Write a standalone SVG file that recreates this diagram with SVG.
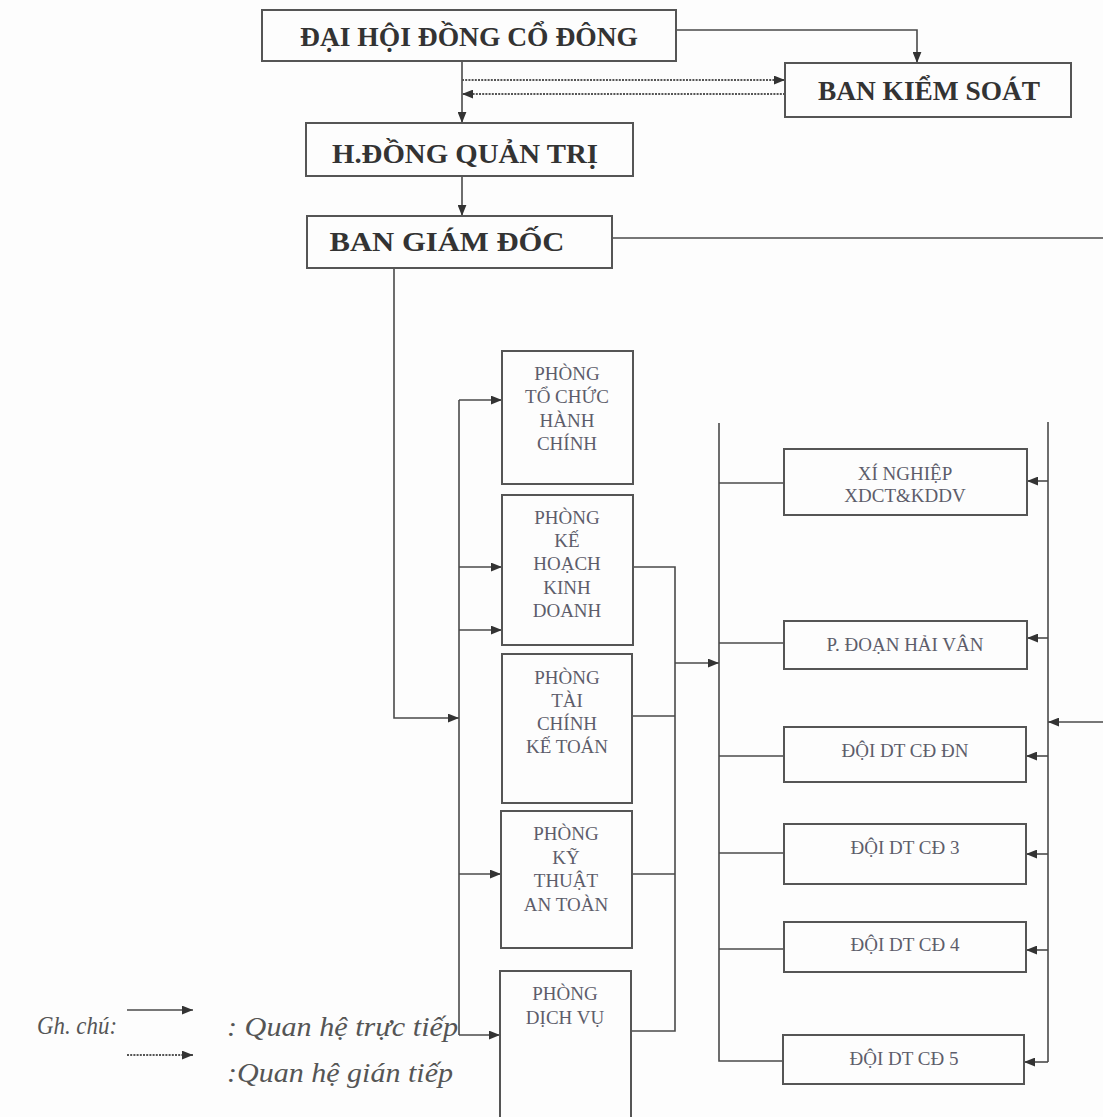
<svg xmlns="http://www.w3.org/2000/svg" width="1103" height="1117" viewBox="0 0 1103 1117">
<style>
.box{fill:none;stroke:#555;stroke-width:2}
.big{font-family:"Liberation Serif","Times New Roman",serif;font-weight:bold;font-size:28px;fill:#333;text-anchor:middle}
.sm{font-family:"Liberation Serif","Times New Roman",serif;font-size:19px;fill:#5d5d6b;text-anchor:middle}
.lg{font-family:"Liberation Serif","Times New Roman",serif;font-style:italic;font-size:27px;fill:#555}
.ln{fill:none;stroke:#4a4a4a;stroke-width:1.6}
.dot{fill:none;stroke:#555;stroke-width:1.8;stroke-dasharray:2 1.2}
</style>
<defs>
<marker id="ah" viewBox="0 0 10 8" refX="10" refY="4" markerWidth="11" markerHeight="9" markerUnits="userSpaceOnUse" orient="auto">
<path d="M0,0 L10,4 L0,8 z" fill="#333"/>
</marker>
</defs>
<rect width="1103" height="1117" fill="#fdfdfd"/>

<g id="connectors">
<path class="ln" d="M676 30 H917 V63" marker-end="url(#ah)"/>
<path class="ln" d="M462 61 V123" marker-end="url(#ah)"/>
<path class="dot" d="M462 80 H785" marker-end="url(#ah)"/>
<path class="dot" d="M785 94 H462" marker-end="url(#ah)"/>
<path class="ln" d="M462 176 V216" marker-end="url(#ah)"/>
<path class="ln" d="M612 238 H1103"/>
<path class="ln" d="M394 268 V718 H459" marker-end="url(#ah)"/>
<path class="ln" d="M459 400 V1035"/>
<path class="ln" d="M459 400 H502" marker-end="url(#ah)"/>
<path class="ln" d="M459 567 H502" marker-end="url(#ah)"/>
<path class="ln" d="M459 630 H502" marker-end="url(#ah)"/>
<path class="ln" d="M459 874 H501" marker-end="url(#ah)"/>
<path class="ln" d="M459 1035 H500" marker-end="url(#ah)"/>
<path class="ln" d="M633 567 H675 V1031 H631"/>
<path class="ln" d="M632 716 H675"/>
<path class="ln" d="M632 874 H675"/>
<path class="ln" d="M675 663 H719" marker-end="url(#ah)"/>
<path class="ln" d="M719 423 V1061 H783"/>
<path class="ln" d="M719 483 H784"/>
<path class="ln" d="M719 643 H784"/>
<path class="ln" d="M719 756 H784"/>
<path class="ln" d="M719 853 H784"/>
<path class="ln" d="M719 949 H784"/>
<path class="ln" d="M1048 422 V1062"/>
<path class="ln" d="M1048 481 H1027" marker-end="url(#ah)"/>
<path class="ln" d="M1048 638 H1027" marker-end="url(#ah)"/>
<path class="ln" d="M1048 756 H1026" marker-end="url(#ah)"/>
<path class="ln" d="M1048 854 H1026" marker-end="url(#ah)"/>
<path class="ln" d="M1048 950 H1026" marker-end="url(#ah)"/>
<path class="ln" d="M1048 1062 H1024" marker-end="url(#ah)"/>
<path class="ln" d="M1103 722 H1048" marker-end="url(#ah)"/>
</g>

<g id="dhdcd"><rect class="box" x="262" y="10" width="414" height="51"/><text class="big" x="469" y="46" textLength="338" lengthAdjust="spacingAndGlyphs">ĐẠI HỘI ĐỒNG CỔ ĐÔNG</text></g>
<g id="bks"><rect class="box" x="785" y="63" width="286" height="54"/><text class="big" x="929" y="100" textLength="222" lengthAdjust="spacingAndGlyphs">BAN KIỂM SOÁT</text></g>
<g id="hdqt"><rect class="box" x="306" y="123" width="327" height="53"/><text class="big" x="465" y="163" textLength="266" lengthAdjust="spacingAndGlyphs">H.ĐỒNG QUẢN TRỊ</text></g>
<g id="bgd"><rect class="box" x="307" y="216" width="305" height="52"/><text class="big" x="447" y="251" textLength="235" lengthAdjust="spacingAndGlyphs">BAN GIÁM ĐỐC</text></g>

<g id="p-tchc"><rect class="box" x="502" y="351" width="131" height="133"/>
<text class="sm" x="567" y="380">PHÒNG</text><text class="sm" x="567" y="403">TỔ CHỨC</text><text class="sm" x="567" y="427">HÀNH</text><text class="sm" x="567" y="450">CHÍNH</text></g>
<g id="p-khkd"><rect class="box" x="502" y="495" width="131" height="150"/>
<text class="sm" x="567" y="524">PHÒNG</text><text class="sm" x="567" y="547">KẾ</text><text class="sm" x="567" y="570">HOẠCH</text><text class="sm" x="567" y="594">KINH</text><text class="sm" x="567" y="617">DOANH</text></g>
<g id="p-tckt"><rect class="box" x="502" y="654" width="130" height="149"/>
<text class="sm" x="567" y="684">PHÒNG</text><text class="sm" x="567" y="707">TÀI</text><text class="sm" x="567" y="730">CHÍNH</text><text class="sm" x="567" y="753">KẾ TOÁN</text></g>
<g id="p-ktat"><rect class="box" x="501" y="811" width="131" height="137"/>
<text class="sm" x="566" y="840">PHÒNG</text><text class="sm" x="566" y="864">KỸ</text><text class="sm" x="566" y="887">THUẬT</text><text class="sm" x="566" y="911">AN TOÀN</text></g>
<g id="p-dv"><rect class="box" x="500" y="971" width="131" height="170"/>
<text class="sm" x="565" y="1000">PHÒNG</text><text class="sm" x="565" y="1024">DỊCH VỤ</text></g>

<g id="xn"><rect class="box" x="784" y="449" width="243" height="66"/>
<text class="sm" x="905" y="480">XÍ NGHIỆP</text><text class="sm" x="905" y="502">XDCT&amp;KDDV</text></g>
<g id="phv"><rect class="box" x="784" y="621" width="243" height="48"/><text class="sm" x="905" y="651">P. ĐOẠN HẢI VÂN</text></g>
<g id="dn"><rect class="box" x="784" y="727" width="242" height="55"/><text class="sm" x="905" y="757">ĐỘI DT CĐ ĐN</text></g>
<g id="cd3"><rect class="box" x="784" y="824" width="242" height="60"/><text class="sm" x="905" y="854">ĐỘI DT CĐ 3</text></g>
<g id="cd4"><rect class="box" x="784" y="922" width="242" height="50"/><text class="sm" x="905" y="951">ĐỘI DT CĐ 4</text></g>
<g id="cd5"><rect class="box" x="783" y="1035" width="241" height="49"/><text class="sm" x="904" y="1065">ĐỘI DT CĐ 5</text></g>

<g id="legend">
<text class="lg" x="37" y="1034" style="font-size:25px" textLength="80" lengthAdjust="spacingAndGlyphs">Gh. chú:</text>
<path class="ln" d="M127 1010 H193" marker-end="url(#ah)"/>
<path class="dot" d="M127 1055 H193" marker-end="url(#ah)"/>
<text class="lg" x="227" y="1036" textLength="231" lengthAdjust="spacingAndGlyphs">: Quan hệ trực tiếp</text>
<text class="lg" x="227" y="1082" textLength="226" lengthAdjust="spacingAndGlyphs">:Quan hệ gián tiếp</text>
</g>
</svg>
